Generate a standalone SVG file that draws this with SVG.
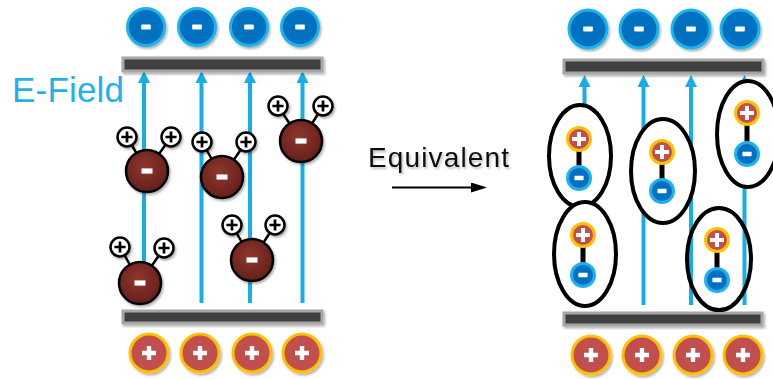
<svg xmlns="http://www.w3.org/2000/svg" width="773" height="379" viewBox="0 0 773 379">
  <defs>
    <style>
      .neg { fill: #0070C0; stroke: #1FB2EA; stroke-width: 3; filter: url(#shadow); }
      .pos { fill: #C0504D; stroke: #FFC000; stroke-width: 3; filter: url(#shadow); }
      .sign { fill: #FFFFFF; }
      .plate { fill: #404040; stroke: #A6A6A6; stroke-width: 3; filter: url(#shadow); }
      .field { stroke: #16AEE8; stroke-width: 4; fill: none; marker-end: url(#fieldHead); }
      .oxy { fill: url(#oxyFill); stroke: #000; stroke-width: 2.5; filter: url(#shadow); }
      .hyd { fill: #FFFFFF; stroke: #000; stroke-width: 2.5; filter: url(#shadow); }
      .hsign { fill: #000; }
      .bond { stroke: #000; stroke-width: 2.5; }
      .shell { fill: #FFFFFF; stroke: #000; stroke-width: 4; }
      .dbond { stroke: #000; stroke-width: 5; }
      .dpos { fill: #C0504D; stroke: #FFC000; stroke-width: 3; }
      .dneg { fill: #0070C0; stroke: #1FB2EA; stroke-width: 3; }
      .label { font-family: "Liberation Sans", Arial, sans-serif; }
    </style>
    <filter id="shadow" x="-30%" y="-30%" width="170%" height="170%">
      <feDropShadow dx="1.5" dy="2" stdDeviation="1.2" flood-color="#000" flood-opacity="0.3"/>
    </filter>
    <filter id="textShadow" x="-10%" y="-20%" width="130%" height="160%">
      <feDropShadow dx="1.5" dy="2" stdDeviation="1.2" flood-color="#000" flood-opacity="0.25"/>
    </filter>
    <radialGradient id="oxyFill" cx="45%" cy="40%" r="60%">
      <stop offset="0" stop-color="#8E372E"/>
      <stop offset="1" stop-color="#66201A"/>
    </radialGradient>
    <marker id="fieldHead" markerUnits="userSpaceOnUse" viewBox="0 0 12 12" refX="0" refY="6" markerWidth="12" markerHeight="12" orient="auto">
      <path d="M0,0 L12,6 L0,12 z" fill="#16AEE8"/>
    </marker>
    <marker id="eqHead" markerUnits="userSpaceOnUse" viewBox="0 0 16 10" refX="0" refY="5" markerWidth="16" markerHeight="10" orient="auto">
      <path d="M0,0 L16,5 L0,10 z" fill="#000"/>
    </marker>
    <!-- reusable charge signs -->
    <rect id="minusSign" x="-4.8" y="-2.5" width="9.6" height="5" rx="0.8" class="sign"/>
    <path id="plusSign" d="M-2.2,-7 h4.4 v4.8 h4.8 v4.4 h-4.8 v4.8 h-4.4 v-4.8 h-4.8 v-4.4 h4.8 z" class="sign"/>
    <path id="smallPlus" d="M-1.35,-5.6 h2.7 v4.25 h4.25 v2.7 h-4.25 v4.25 h-2.7 v-4.25 h-4.25 v-2.7 h4.25 z" class="hsign"/>
    <rect id="bigMinus" x="-5.5" y="-2.6" width="11" height="5.2" class="sign"/>
    <path id="dPlus" d="M-2,-7 h4 v5 h5 v4 h-5 v5 h-4 v-5 h-5 v-4 h5 z" class="sign"/>
    <rect id="dMinus" x="-4.6" y="-2.2" width="9.2" height="4.4" rx="0.6" class="sign"/>
  </defs>

  <!-- connectors: field lines and the equivalence arrow -->
  <g id="connectors">
    <line class="field" x1="144" y1="262" x2="144" y2="83"/>
    <line class="field" x1="201.5" y1="303" x2="201.5" y2="83"/>
    <line class="field" x1="250" y1="303" x2="250" y2="83"/>
    <line class="field" x1="302.5" y1="303" x2="302.5" y2="83"/>

    <line class="field" x1="584.5" y1="300" x2="584.5" y2="87"/>
    <line class="field" x1="643.5" y1="305" x2="643.5" y2="87"/>
    <line class="field" x1="691" y1="305" x2="691" y2="87"/>
    <line class="field" x1="744.5" y1="305" x2="744.5" y2="87"/>

    <line x1="392" y1="187.5" x2="471" y2="187.5" stroke="#000" stroke-width="2" marker-end="url(#eqHead)"/>
  </g>

  <!-- left plates with their charges -->
  <g id="left-negative-plate">
    <rect class="plate" x="123" y="58" width="199" height="13"/>
    <circle class="neg" cx="146" cy="27" r="18.5"/><use href="#minusSign" x="146" y="27"/>
    <circle class="neg" cx="197" cy="27" r="18.5"/><use href="#minusSign" x="197" y="27"/>
    <circle class="neg" cx="249" cy="27" r="18.5"/><use href="#minusSign" x="249" y="27"/>
    <circle class="neg" cx="300" cy="27" r="18.5"/><use href="#minusSign" x="300" y="27"/>
  </g>
  <g id="left-positive-plate">
    <rect class="plate" x="123" y="311" width="199" height="12"/>
    <circle class="pos" cx="149" cy="353" r="19"/><use href="#plusSign" x="149" y="353"/>
    <circle class="pos" cx="200" cy="353" r="19"/><use href="#plusSign" x="200" y="353"/>
    <circle class="pos" cx="252" cy="353" r="19"/><use href="#plusSign" x="252" y="353"/>
    <circle class="pos" cx="302" cy="353" r="19"/><use href="#plusSign" x="302" y="353"/>
  </g>

  <text id="e-field-label" class="label" x="12" y="102" font-size="35" fill="#1FB2EA" textLength="112">E-Field</text>

  <!-- water molecules -->
  <g id="molecule-1">
    <line class="bond" x1="127" y1="137" x2="147" y2="171"/>
    <line class="bond" x1="171" y1="137" x2="147" y2="171"/>
    <circle class="hyd" cx="127" cy="137" r="9.5"/><use href="#smallPlus" x="127" y="137"/>
    <circle class="hyd" cx="171" cy="137" r="9.5"/><use href="#smallPlus" x="171" y="137"/>
    <circle class="oxy" cx="147" cy="171" r="21"/><use href="#bigMinus" x="147" y="171"/>
  </g>
  <g id="molecule-2">
    <line class="bond" x1="202" y1="142" x2="222" y2="177"/>
    <line class="bond" x1="246" y1="142" x2="222" y2="177"/>
    <circle class="hyd" cx="202" cy="142" r="9.5"/><use href="#smallPlus" x="202" y="142"/>
    <circle class="hyd" cx="246" cy="142" r="9.5"/><use href="#smallPlus" x="246" y="142"/>
    <circle class="oxy" cx="222" cy="177" r="21"/><use href="#bigMinus" x="222" y="177"/>
  </g>
  <g id="molecule-3">
    <line class="bond" x1="278" y1="106" x2="301" y2="141"/>
    <line class="bond" x1="323" y1="106" x2="301" y2="141"/>
    <circle class="hyd" cx="278" cy="106" r="9.5"/><use href="#smallPlus" x="278" y="106"/>
    <circle class="hyd" cx="323" cy="106" r="9.5"/><use href="#smallPlus" x="323" y="106"/>
    <circle class="oxy" cx="301" cy="141" r="21"/><use href="#bigMinus" x="301" y="141"/>
  </g>
  <g id="molecule-4">
    <line class="bond" x1="120" y1="247" x2="140" y2="283"/>
    <line class="bond" x1="164" y1="248" x2="140" y2="283"/>
    <circle class="hyd" cx="120" cy="247" r="9.5"/><use href="#smallPlus" x="120" y="247"/>
    <circle class="hyd" cx="164" cy="248" r="9.5"/><use href="#smallPlus" x="164" y="248"/>
    <circle class="oxy" cx="140" cy="283" r="21"/><use href="#bigMinus" x="140" y="283"/>
  </g>
  <g id="molecule-5">
    <line class="bond" x1="232" y1="225" x2="252" y2="260"/>
    <line class="bond" x1="275" y1="225" x2="252" y2="260"/>
    <circle class="hyd" cx="232" cy="225" r="9.5"/><use href="#smallPlus" x="232" y="225"/>
    <circle class="hyd" cx="275" cy="225" r="9.5"/><use href="#smallPlus" x="275" y="225"/>
    <circle class="oxy" cx="252" cy="260" r="21"/><use href="#bigMinus" x="252" y="260"/>
  </g>

  <text id="equivalent-label" class="label" x="368" y="167" font-size="28" fill="#111" textLength="141" filter="url(#textShadow)">Equivalent</text>

  <!-- right plates with their charges -->
  <g id="right-negative-plate">
    <rect class="plate" x="564" y="60" width="199" height="13"/>
    <circle class="neg" cx="588" cy="29" r="19"/><use href="#minusSign" x="588" y="29"/>
    <circle class="neg" cx="639" cy="29" r="19"/><use href="#minusSign" x="639" y="29"/>
    <circle class="neg" cx="691" cy="29" r="19"/><use href="#minusSign" x="691" y="29"/>
    <circle class="neg" cx="740" cy="29" r="19"/><use href="#minusSign" x="740" y="29"/>
  </g>
  <g id="right-positive-plate">
    <rect class="plate" x="564" y="313" width="198" height="12"/>
    <circle class="pos" cx="591" cy="355" r="19"/><use href="#plusSign" x="591" y="355"/>
    <circle class="pos" cx="642" cy="355" r="19"/><use href="#plusSign" x="642" y="355"/>
    <circle class="pos" cx="693" cy="355" r="19"/><use href="#plusSign" x="693" y="355"/>
    <circle class="pos" cx="743" cy="355" r="19"/><use href="#plusSign" x="743" y="355"/>
  </g>

  <!-- dipoles -->
  <g id="dipole-a">
    <ellipse class="shell" cx="580" cy="156" rx="31" ry="51"/>
    <line class="dbond" x1="579" y1="139" x2="579" y2="178"/>
    <circle class="dpos" cx="579" cy="139" r="11.5"/><use href="#dPlus" x="579" y="139"/>
    <circle class="dneg" cx="579" cy="178" r="11.5"/><use href="#dMinus" x="579" y="178"/>
  </g>
  <g id="dipole-b">
    <ellipse class="shell" cx="663" cy="171" rx="32" ry="52"/>
    <line class="dbond" x1="662" y1="152" x2="662" y2="191"/>
    <circle class="dpos" cx="662" cy="152" r="11.5"/><use href="#dPlus" x="662" y="152"/>
    <circle class="dneg" cx="662" cy="191" r="11.5"/><use href="#dMinus" x="662" y="191"/>
  </g>
  <g id="dipole-c">
    <ellipse class="shell" cx="748" cy="134" rx="31" ry="53"/>
    <line class="dbond" x1="747" y1="113" x2="747" y2="154"/>
    <circle class="dpos" cx="747" cy="113" r="11.5"/><use href="#dPlus" x="747" y="113"/>
    <circle class="dneg" cx="747" cy="154" r="11.5"/><use href="#dMinus" x="747" y="154"/>
  </g>
  <g id="dipole-d">
    <ellipse class="shell" cx="585" cy="254" rx="31" ry="52"/>
    <line class="dbond" x1="583" y1="235" x2="583" y2="275"/>
    <circle class="dpos" cx="583" cy="235" r="11.5"/><use href="#dPlus" x="583" y="235"/>
    <circle class="dneg" cx="583" cy="275" r="11.5"/><use href="#dMinus" x="583" y="275"/>
  </g>
  <g id="dipole-e">
    <ellipse cx="719" cy="259" rx="32" ry="51" fill="none" stroke="#000" stroke-width="4"/>
    <line class="dbond" x1="717" y1="240" x2="717" y2="280"/>
    <circle class="dpos" cx="717" cy="240" r="11.5"/><use href="#dPlus" x="717" y="240"/>
    <circle class="dneg" cx="717" cy="280" r="11.5"/><use href="#dMinus" x="717" y="280"/>
  </g>
</svg>
